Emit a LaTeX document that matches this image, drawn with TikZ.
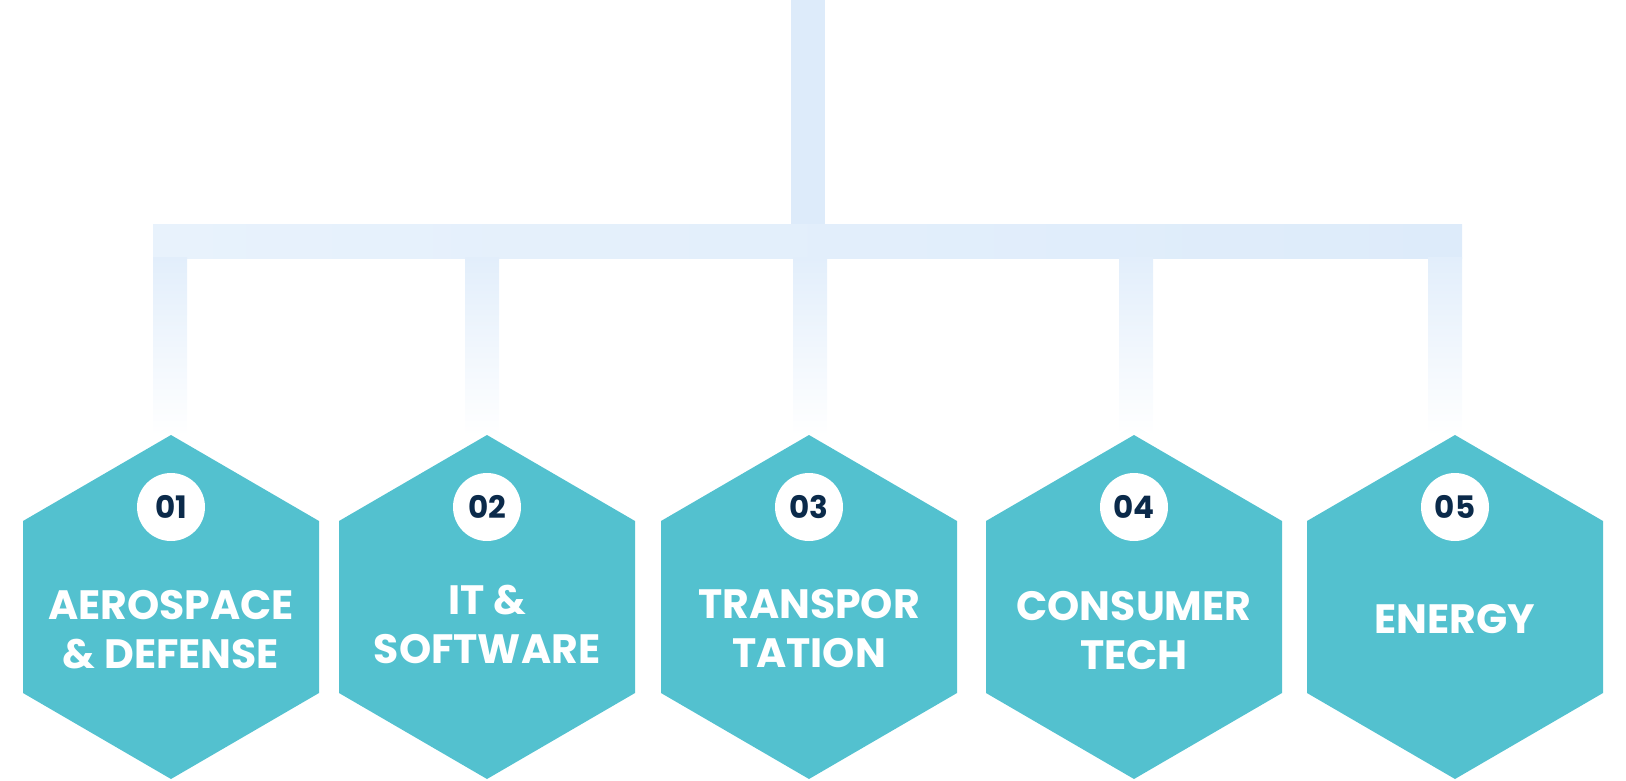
\documentclass[tikz,border=0pt]{standalone}
\usepackage{fontspec}
\setmainfont{Poppins}
\definecolor{hexfill}{HTML}{53C1CF}
\definecolor{numcol}{HTML}{0B2A4A}
\definecolor{barcol}{HTML}{DDEBFA}
\definecolor{barleft}{HTML}{E8F2FC}
\definecolor{dropcol}{HTML}{E2EEFB}
\tikzset{
  hexlabel/.style={text=white, font=\fontsize{41}{49}\selectfont\bfseries, align=center, inner sep=0pt},
  numdisc/.style={circle, fill=white, minimum size=68pt, inner sep=0pt, text=numcol, font=\fontsize{31}{31}\selectfont\bfseries},
}
\begin{document}
\begin{tikzpicture}[x=1pt,y=-1pt]
\useasboundingbox (0,0) rectangle (1626,780);
% trunk and hub
\coordinate (top) at (808,0);
\coordinate (hub) at (808,241);
\coordinate (barL) at (153,241);
\coordinate (barR) at (1462,241);
\fill[barcol] (791,0) rectangle (825,224);
\shade[left color=barleft, right color=barcol] (153,224) rectangle (1462,258);
% hexagons
\foreach \i/\cx/\dx/\ty/\txt in {
  1/171/170/630/{AEROSPACE\\\& DEFENSE},
  2/487/482/624/{IT \&\\SOFTWARE},
  3/809/810/629/{TRANSPOR\\TATION},
  4/1134/1136/630/{CONSUMER\\TECH},
  5/1455/1445/619/{ENERGY}}{
  \coordinate (d\i) at (\dx,258);
  \coordinate (apex\i) at (\dx,436);
  \shade[top color=dropcol, bottom color=white] (\dx-17,257) rectangle (\dx+17,436);
  \fill[hexfill] (\cx,435) -- (\cx+148,521) -- (\cx+148,693) -- (\cx,779)
     -- (\cx-148,693) -- (\cx-148,521) -- cycle;
  \node[numdisc] (n\i) at (\cx,507) {0\i};
  \node[hexlabel] (t\i) at (\cx,\ty) {\txt};
}
\end{tikzpicture}
\end{document}
